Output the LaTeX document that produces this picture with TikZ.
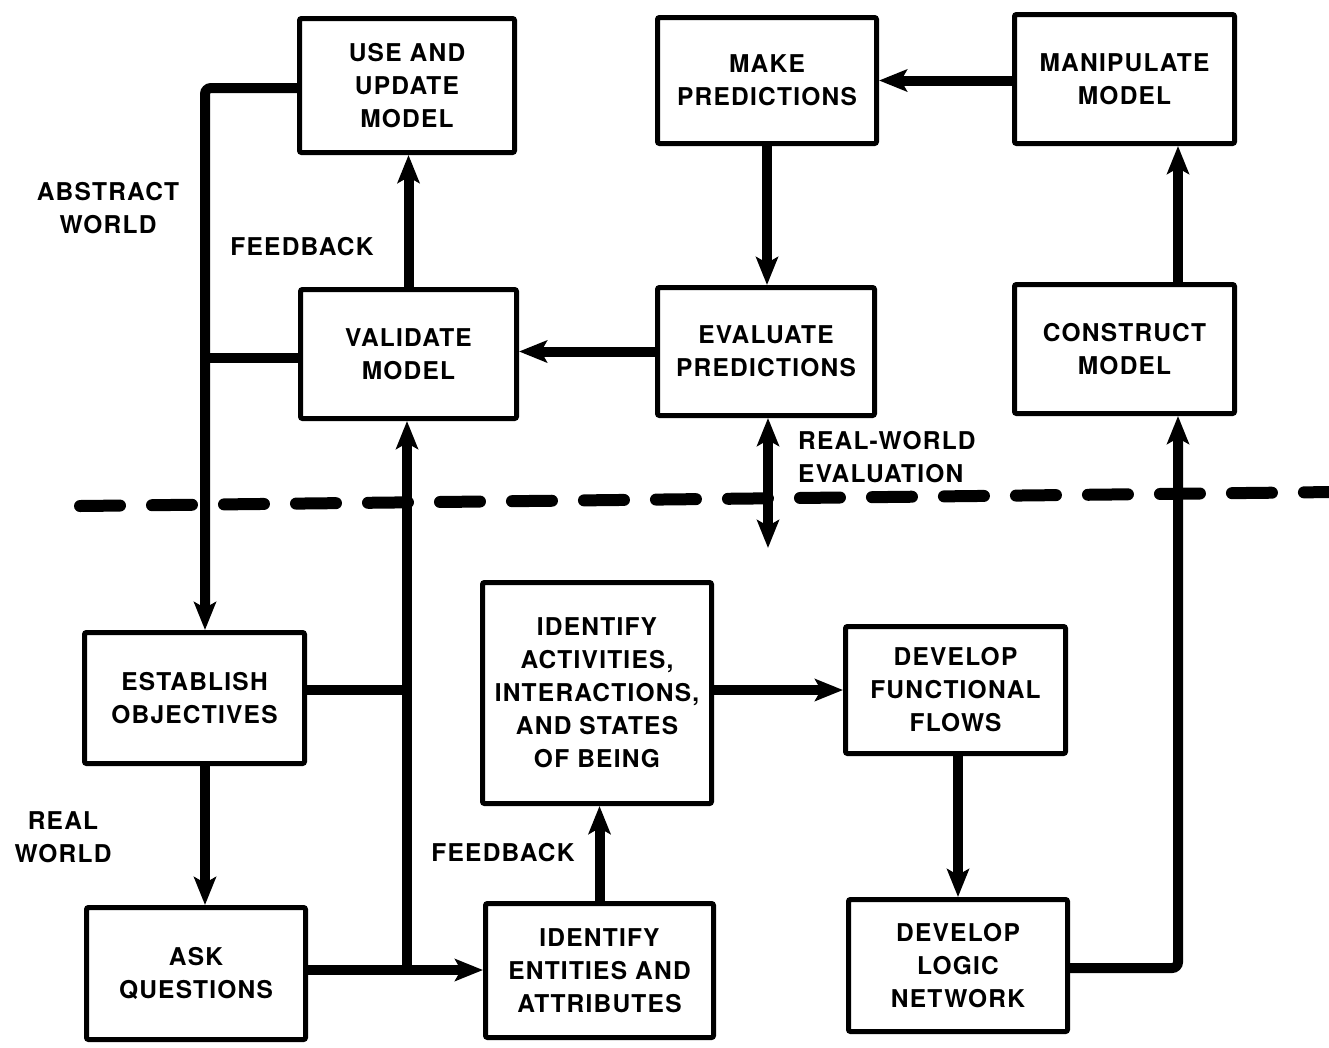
\documentclass[tikz,border=0pt]{standalone}
\usepackage{fontspec}
\setmainfont{TeX Gyre Heros}[LetterSpace=5]
\usetikzlibrary{arrows.meta,calc}
\newcommand{\diagfont}{\fontsize{24.5}{33}\selectfont\bfseries}
\begin{document}
\begin{tikzpicture}[x=1pt,y=-1pt,
  box/.style={draw, line width=5pt, rounded corners=2pt, align=center,
              font=\diagfont, inner sep=0pt},
  lbl/.style={font=\diagfont, align=center, inner sep=0pt},
  conn/.style={line width=10pt},
  tip/.style={-{Stealth[length=28pt,width=22pt,inset=6pt]}},
  twotip/.style={{Stealth[length=28pt,width=22pt,inset=6pt]}-{Stealth[length=28pt,width=22pt,inset=6pt]}},
  divider/.style={line width=12pt, line cap=round, dash pattern=on 40pt off 32pt}]

% page frame
\useasboundingbox (0,0) rectangle (1329,1047);
\fill[white] (0,0) rectangle (1329,1047);

% abstract world
\node[box, minimum width=215, minimum height=134] (use)   at (407,85.5)   {USE AND\\UPDATE\\MODEL};
\node[box, minimum width=219, minimum height=126] (make)  at (767,80.5)   {MAKE\\PREDICTIONS};
\node[box, minimum width=220, minimum height=129] (manip) at (1124.5,79)  {MANIPULATE\\MODEL};
\node[box, minimum width=216, minimum height=129] (valid) at (408.5,354)  {VALIDATE\\MODEL};
\node[box, minimum width=217, minimum height=128] (eval)  at (766,351.5)  {EVALUATE\\PREDICTIONS};
\node[box, minimum width=220, minimum height=129] (cons)  at (1124.5,349) {CONSTRUCT\\MODEL};

% real world
\node[box, minimum width=220, minimum height=131] (estab) at (194.5,698)  {ESTABLISH\\OBJECTIVES};
\node[box, minimum width=229, minimum height=221] (act)   at (597,693)    {IDENTIFY\\ACTIVITIES,\\INTERACTIONS,\\AND STATES\\OF BEING};
\node[box, minimum width=220, minimum height=127] (flows) at (955.5,690)  {DEVELOP\\FUNCTIONAL\\FLOWS};
\node[box, minimum width=219, minimum height=132] (ask)   at (196,973.5)  {ASK\\QUESTIONS};
\node[box, minimum width=228, minimum height=134] (ent)   at (599.5,970.5){IDENTIFY\\ENTITIES AND\\ATTRIBUTES};
\node[box, minimum width=219, minimum height=132] (logic) at (958,965.5)  {DEVELOP\\LOGIC\\NETWORK};

% side labels
\node[lbl] (labs)  at (108,208) {ABSTRACT\\WORLD};
\node[lbl] (lfb1)  at (302,247) {FEEDBACK};
\node[lbl, align=left, anchor=west] (lrwe) at (798,457) {REAL-WORLD\\EVALUATION};
\node[lbl] (lreal) at (63,837)  {REAL\\WORLD};
\node[lbl] (lfb2)  at (503,853) {FEEDBACK};

% junctions and corners of the connectors
\coordinate (tl) at (205,88);
\coordinate (jv) at (205,358);
\coordinate (jm) at (407,690);
\coordinate (jb) at (407,970);
\coordinate (br) at (1178,968);
\coordinate (rwe) at (768,548);

% boundary between the two worlds
\coordinate (dl) at (80,506);
\coordinate (dr) at (1335,492);
\draw[divider] (dl) -- (dr);

% feedback loop on the left
\draw[conn, tip, rounded corners=6pt] (use.west |- tl) -- (tl) -- (estab.north -| tl);
\draw[conn] (valid.west |- jv) -- (jv);
\draw[conn, tip] (valid.north) -- (use.south -| valid.north);
\draw[conn] (estab.east |- jm) -- (jm);
\draw[conn, tip] (estab.south -| tl) -- (ask.north -| tl);
\draw[conn, tip] (ask.east |- jb) -- (ent.west |- jb);
\draw[conn, tip] (jb) -- (valid.south -| jb);

% modelling chain
\draw[conn, tip] (ent.north) -- (act.south -| ent.north);
\draw[conn, tip] (act.east |- flows.west) -- (flows.west);
\draw[conn, tip] (flows.south -| logic.north) -- (logic.north);
\draw[conn, tip, rounded corners=6pt] (logic.east |- br) -- (br) -- (cons.south -| br);
\draw[conn, tip] (cons.north -| br) -- (manip.south -| br);
\draw[conn, tip] (manip.west |- make.east) -- (make.east);
\draw[conn, tip] (make.south) -- (eval.north -| make.south);
\draw[conn, tip] (eval.west) -- (valid.east |- eval.west);
\draw[conn, twotip] (eval.south -| rwe) -- (rwe);
\end{tikzpicture}
\end{document}
